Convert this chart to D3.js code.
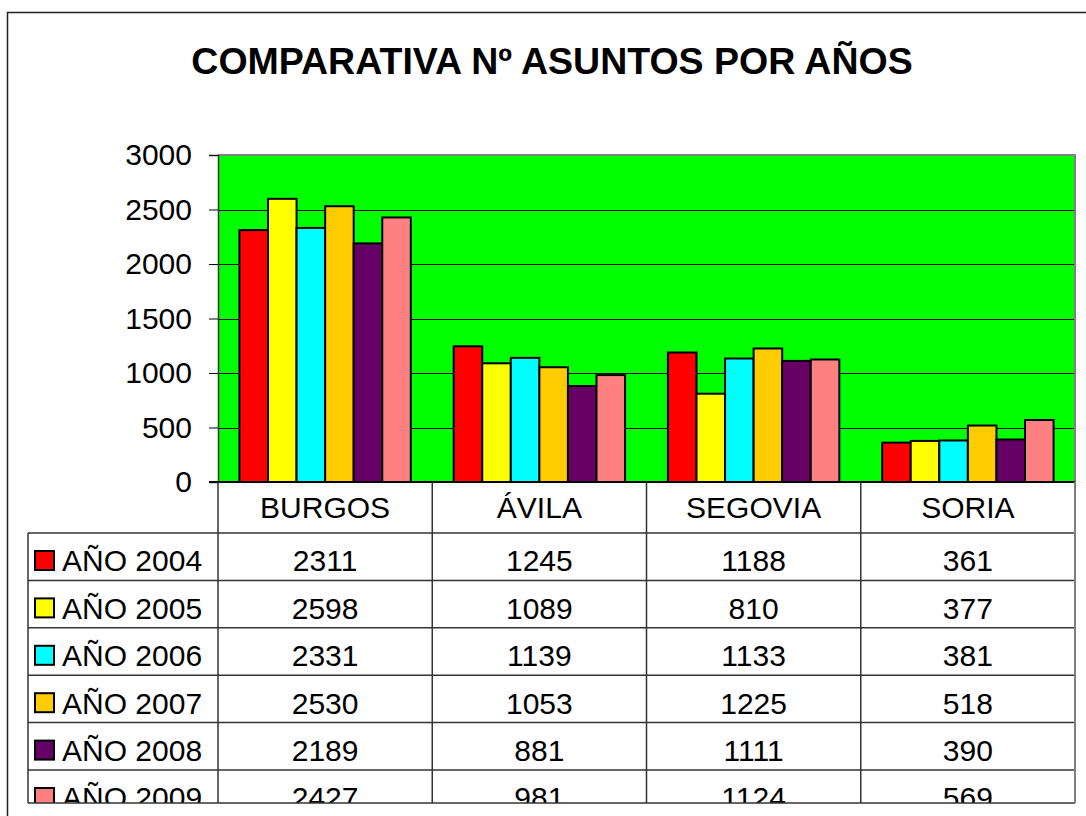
<!DOCTYPE html>
<html>
<head>
<meta charset="utf-8">
<script src="https://cdn.jsdelivr.net/npm/d3@7/dist/d3.min.js"></script>
<style>
  body { margin: 0; background: #fff; }
  svg { display: block; font-family: "Liberation Sans", Arial, sans-serif; }
</style>
</head>
<body>
<div id="chart"></div>
<script>
// data
var categories = ["BURGOS", "ÁVILA", "SEGOVIA", "SORIA"];
var years = ["AÑO 2004", "AÑO 2005", "AÑO 2006", "AÑO 2007", "AÑO 2008", "AÑO 2009"];
var v2004 = [2311, 1245, 1188, 361];
var v2005 = [2598, 1089, 810, 377];
var v2006 = [2331, 1139, 1133, 381];
var v2007 = [2530, 1053, 1225, 518];
var v2008 = [2189, 881, 1111, 390];
var v2009 = [2427, 981, 1124, 569];
var yTicks = [0, 500, 1000, 1500, 2000, 2500, 3000];
var colors = ["#ff0000", "#ffff00", "#00ffff", "#ffcc00", "#660066", "#ff8080"];
var title = "COMPARATIVA Nº ASUNTOS POR AÑOS";

var series = [v2004, v2005, v2006, v2007, v2008, v2009];

var W = 1086, H = 816,
    plot = {left: 218, right: 1075, top: 155, bottom: 482},
    tableLeft = 28, headerBottom = 533, rowH = 47.4, tableBottom = 803,
    fs = "30px";

var svg = d3.select("#chart").append("svg")
    .attr("width", W).attr("height", H);

// outer chart frame (runs off the page bottom/right)
svg.append("path")
    .attr("d", "M7.5," + H + "V12.5H" + W)
    .attr("fill", "none").attr("stroke", "#222").attr("stroke-width", 1.5);

svg.append("text")
    .attr("x", 552).attr("y", 74)
    .attr("text-anchor", "middle")
    .style("font-size", "37.5px").style("font-weight", "bold")
    .text(title);

var x0 = d3.scaleBand().domain(categories).range([plot.left, plot.right]);
var bw = x0.bandwidth();
var x1 = d3.scaleBand().domain(years).range([bw * 0.1, bw * 0.9]);
var y = d3.scaleLinear().domain([0, 3000]).range([plot.bottom, plot.top]);

// plot background
svg.append("rect")
    .attr("x", plot.left).attr("y", plot.top)
    .attr("width", plot.right - plot.left).attr("height", plot.bottom - plot.top)
    .attr("fill", "#00ff00");

// gridlines
svg.append("g").selectAll("line")
    .data(yTicks.slice(1, -1))
    .enter().append("line")
    .attr("x1", plot.left).attr("x2", plot.right)
    .attr("y1", function(d) { return Math.round(y(d)) + 0.5; })
    .attr("y2", function(d) { return Math.round(y(d)) + 0.5; })
    .attr("stroke", "#000").attr("stroke-width", 1);

// plot border top/right in grey
svg.append("path")
    .attr("d", "M" + plot.left + "," + plot.top + "H" + plot.right + "V" + plot.bottom)
    .attr("fill", "none").attr("stroke", "#808080").attr("stroke-width", 2);

// bars
var group = svg.append("g").selectAll("g")
    .data(categories)
    .enter().append("g")
    .attr("transform", function(d) { return "translate(" + x0(d) + ",0)"; });

group.selectAll("rect")
    .data(function(c, ci) { return years.map(function(yr, i) { return {year: yr, i: i, value: series[i][ci]}; }); })
    .enter().append("rect")
    .attr("x", function(d) { return x1(d.year); })
    .attr("y", function(d) { return y(d.value); })
    .attr("width", x1.bandwidth())
    .attr("height", function(d) { return y(0) - y(d.value); })
    .attr("fill", function(d) { return colors[d.i]; })
    .attr("stroke", "#000").attr("stroke-width", 2);

// y axis
var yAxis = d3.axisLeft(y).tickValues(yTicks).tickFormat(d3.format("d")).tickSize(9).tickPadding(17);
var ya = svg.append("g")
    .attr("transform", "translate(" + plot.left + ",0)")
    .call(yAxis);
ya.select(".domain").attr("stroke", "#333").attr("stroke-width", 1.5);
ya.selectAll(".tick line").attr("stroke", "#000");
ya.selectAll(".tick text")
    .style("font-size", fs).style("font-family", "Liberation Sans, Arial, sans-serif")
    .attr("fill", "#000");

// axis baseline
svg.append("line")
    .attr("x1", plot.left - 9).attr("x2", plot.right)
    .attr("y1", plot.bottom).attr("y2", plot.bottom)
    .attr("stroke", "#000").attr("stroke-width", 2);

// data table
svg.append("clipPath").attr("id", "tclip")
    .append("rect").attr("x", 0).attr("y", plot.bottom).attr("width", W).attr("height", tableBottom - plot.bottom);

var table = svg.append("g").attr("clip-path", "url(#tclip)");
var rowY = d3.scaleBand().domain(years).range([headerBottom, headerBottom + rowH * years.length]);

// header labels
table.selectAll(".hdr")
    .data(categories)
    .enter().append("text")
    .attr("x", function(d) { return x0(d) + bw / 2; })
    .attr("y", headerBottom - 15)
    .attr("text-anchor", "middle")
    .style("font-size", fs)
    .text(function(d) { return d; });

var rows = table.selectAll(".row")
    .data(years)
    .enter().append("g")
    .attr("transform", function(d) { return "translate(0," + rowY(d) + ")"; });

rows.append("rect")
    .attr("x", 35).attr("y", 18)
    .attr("width", 19).attr("height", 19)
    .attr("fill", function(d, i) { return colors[i]; })
    .attr("stroke", "#000").attr("stroke-width", 2);

rows.append("text")
    .attr("x", 62).attr("y", rowH - 9)
    .style("font-size", fs)
    .text(function(d) { return d; });

rows.selectAll(".val")
    .data(function(d, i) { return series[i]; })
    .enter().append("text")
    .attr("x", function(d, ci) { return x0(categories[ci]) + bw / 2; })
    .attr("y", rowH - 9)
    .attr("text-anchor", "middle")
    .style("font-size", fs)
    .text(function(d) { return d; });

// table grid
var gl = svg.append("g").attr("stroke", "#333").attr("stroke-width", 1.5).attr("fill", "none");
years.forEach(function(yr) {
  var yy = rowY(yr);
  gl.append("line").attr("x1", tableLeft).attr("x2", plot.right).attr("y1", yy).attr("y2", yy);
});
gl.append("line").attr("x1", tableLeft).attr("x2", plot.right).attr("y1", tableBottom).attr("y2", tableBottom);
gl.append("line").attr("x1", tableLeft).attr("x2", tableLeft).attr("y1", headerBottom).attr("y2", tableBottom);
categories.forEach(function(c) {
  gl.append("line").attr("x1", x0(c)).attr("x2", x0(c)).attr("y1", plot.bottom).attr("y2", tableBottom);
});
gl.append("line").attr("x1", plot.right).attr("x2", plot.right).attr("y1", plot.bottom).attr("y2", tableBottom)
  .attr("stroke", "#808080").attr("stroke-width", 2);
</script>
</body>
</html>
